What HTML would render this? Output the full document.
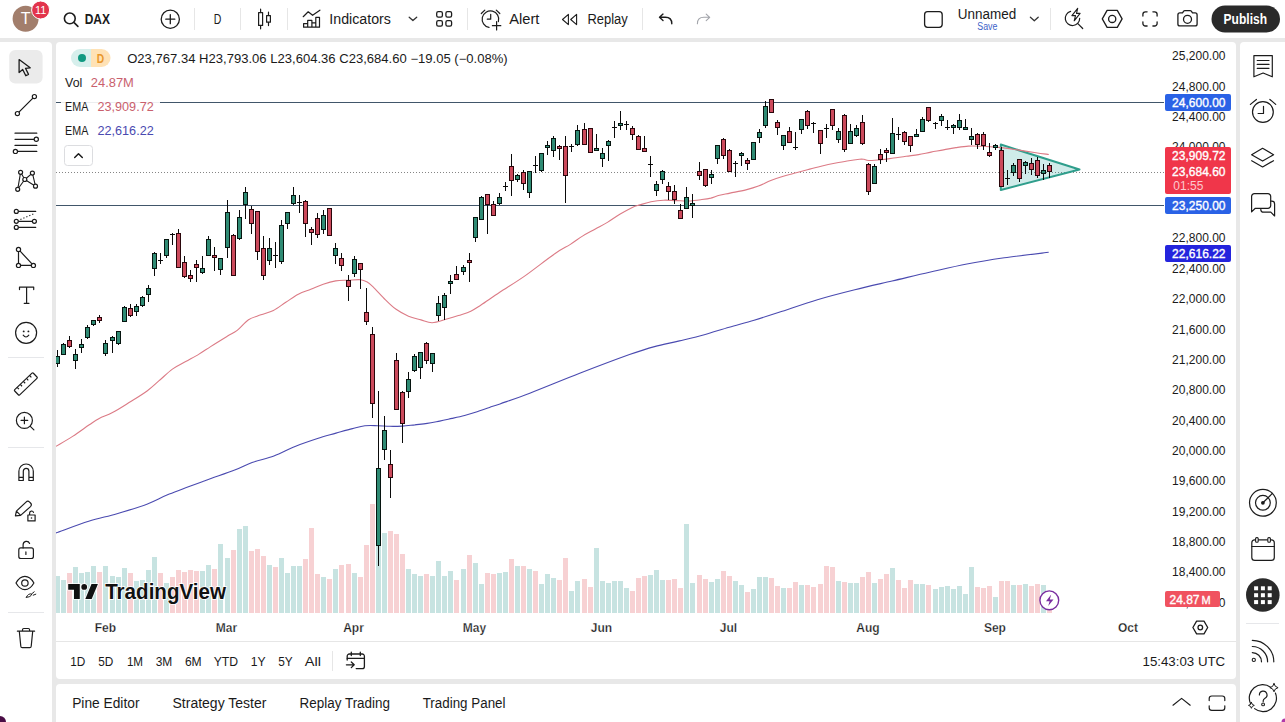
<!DOCTYPE html>
<html lang="en"><head><meta charset="utf-8"><title>DAX chart</title>
<style>html,body{margin:0;padding:0}
body{width:1285px;height:722px;overflow:hidden;background:#e8e8e8;font-family:"Liberation Sans", sans-serif;position:relative;color:#1a1a1a}
.panel{position:absolute;background:#fff;overflow:hidden}
svg{position:absolute;left:0;top:0;display:block;font-family:"Liberation Sans", sans-serif}
text{font-family:"Liberation Sans", sans-serif}</style></head><body>
<div class="panel" id="topbar" style="left:0px;top:0px;width:1285px;height:38px;border-radius:0"><svg width="1285" height="38" viewBox="0 0 1285 38">
<circle cx="25.6" cy="18.7" r="13" fill="#a27e6c"/>
<text x="25.6" y="24.4" font-size="16" font-weight="normal" fill="#fff" text-anchor="middle">T</text>
<circle cx="40.6" cy="10" r="9" fill="#e2344c" stroke="#fff" stroke-width="1"/>
<text x="40.6" y="14" font-size="11" font-weight="normal" fill="#fff" text-anchor="middle">11</text>
<path d="M75.2,18.4a5.4,5.4 0 1 1 -10.8,0a5.4,5.4 0 1 1 10.8,0M73.9,22.4l4,4" fill="none" stroke="#1c1c1c" stroke-width="1.6" stroke-linecap="round" stroke-linejoin="round"/>
<text x="84.7" y="24" font-size="14" font-weight="bold" fill="#1a1a1a" text-anchor="start" textLength="25.3" lengthAdjust="spacingAndGlyphs">DAX</text>
<path d="M179.4,19.2a9.1,9.1 0 1 1 -18.2,0a9.1,9.1 0 1 1 18.2,0M170.3,14.7v9M165.8,19.2h9" fill="none" stroke="#1c1c1c" stroke-width="1.3" stroke-linecap="round" stroke-linejoin="round"/>
<line x1="194.5" x2="194.5" y1="8" y2="30" stroke="#e6e6e6" stroke-width="1" shape-rendering="crispEdges"/>
<text x="213.7" y="23.9" font-size="14" font-weight="normal" fill="#1a1a1a" text-anchor="start" textLength="7.6" lengthAdjust="spacingAndGlyphs">D</text>
<line x1="240.5" x2="240.5" y1="8" y2="30" stroke="#e6e6e6" stroke-width="1" shape-rendering="crispEdges"/>
<path d="M258.6,12.6h4v12.8h-4zM260.6,9.2v3.4M260.6,25.4v3.4M266.6,15.6h3.8v6.6h-3.8zM268.5,12.2v3.4M268.5,22.2v3.4" fill="none" stroke="#1c1c1c" stroke-width="1.2" stroke-linecap="round" stroke-linejoin="round" stroke-linecap="butt"/>
<line x1="287.5" x2="287.5" y1="8" y2="30" stroke="#e6e6e6" stroke-width="1" shape-rendering="crispEdges"/>
<path d="M303.2,16.7l5,-4.9l4.4,3.5l7.3,-5.1" fill="none" stroke="#1c1c1c" stroke-width="1.2" stroke-linecap="round" stroke-linejoin="round"/>
<path d="M303.6,27.2v-3.6h4.1v3.6M307.7,23.6v-3.2h4.2v6.8M311.9,22.8h3.9M315.8,27.2v-9.9h3.7v9.9zM303.6,27.2h12.2" fill="none" stroke="#1c1c1c" stroke-width="1.2" stroke-linecap="round" stroke-linejoin="round" stroke-linecap="butt"/>
<text x="329.3" y="24" font-size="14" font-weight="normal" fill="#1a1a1a" text-anchor="start" textLength="61.6" lengthAdjust="spacingAndGlyphs">Indicators</text>
<path d="M409.2,17.2l3.7,3.3l3.8,-3.3" fill="none" stroke="#333" stroke-width="1.3" stroke-linecap="round" stroke-linejoin="round"/>
<g fill="none" stroke="#1c1c1c" stroke-width="1.3"><rect x="436.7" y="11.6" width="5.7" height="5.5" rx="1.6"/><rect x="445.9" y="11.6" width="5.7" height="5.5" rx="1.6"/><rect x="436.7" y="20.7" width="5.7" height="5.5" rx="1.6"/><rect x="445.9" y="20.7" width="5.7" height="5.5" rx="1.6"/></g>
<line x1="467.5" x2="467.5" y1="8" y2="30" stroke="#e6e6e6" stroke-width="1" shape-rendering="crispEdges"/>
<path d="M498.4,21.6a8.3,8.3 0 1 0 -9.4,5.8M481.3,13.5l3.5,-3.4M496.3,10.1l3.5,3.4M490.7,14.3v4.9h-3.4M496.6,21.5v8.4M492.4,25.7h8.4" fill="none" stroke="#1c1c1c" stroke-width="1.2" stroke-linecap="round" stroke-linejoin="round"/>
<text x="509.2" y="23.8" font-size="14" font-weight="normal" fill="#1a1a1a" text-anchor="start" textLength="30.2" lengthAdjust="spacingAndGlyphs">Alert</text>
<path d="M568.4,14.4v10.2l-5.9,-5.1zM576.6,14.4v10.2l-5.9,-5.1z" fill="none" stroke="#1c1c1c" stroke-width="1.1" stroke-linecap="round" stroke-linejoin="round"/>
<text x="587.5" y="23.8" font-size="14" font-weight="normal" fill="#1a1a1a" text-anchor="start" textLength="40.3" lengthAdjust="spacingAndGlyphs">Replay</text>
<line x1="642.5" x2="642.5" y1="8" y2="30" stroke="#e6e6e6" stroke-width="1" shape-rendering="crispEdges"/>
<path d="M671.8,23.8c0,-4 -2.4,-6.5 -6.4,-6.5h-5.6M663,14.1l-3.5,3.2l3.5,3.3" fill="none" stroke="#1c1c1c" stroke-width="1.4" stroke-linecap="round" stroke-linejoin="round"/>
<path d="M697.4,23.8c0,-4 2.4,-6.5 6.4,-6.5h5.6M706.2,14.1l3.5,3.2l-3.5,3.3" fill="none" stroke="#a2a4aa" stroke-width="1.1" stroke-linecap="round" stroke-linejoin="round"/>
<rect x="924.6" y="11.7" width="17.6" height="15.6" rx="3" fill="none" stroke="#1c1c1c" stroke-width="1.3"/>
<text x="957.8" y="19" font-size="14" font-weight="normal" fill="#1a1a1a" text-anchor="start" textLength="58.4" lengthAdjust="spacingAndGlyphs">Unnamed</text>
<text x="977.3" y="30" font-size="10" font-weight="normal" fill="#3d63c9" text-anchor="start" textLength="20.1" lengthAdjust="spacingAndGlyphs">Save</text>
<path d="M1030.4,17.3l3.9,3.4l3.9,-3.4" fill="none" stroke="#333" stroke-width="1.3" stroke-linecap="round" stroke-linejoin="round"/>
<line x1="1050.5" x2="1050.5" y1="8" y2="30" stroke="#e6e6e6" stroke-width="1" shape-rendering="crispEdges"/>
<path d="M1070.6,11.4a7.2,7.2 0 1 0 9.1,6.9M1077.6,23.4l5.1,5.1" fill="none" stroke="#1c1c1c" stroke-width="1.2" stroke-linecap="round" stroke-linejoin="round"/>
<path d="M1077.7,8.4l-5.8,7.2h3.6l-1.3,5.2l5.9,-7.4h-3.6z" fill="none" stroke="#1c1c1c" stroke-width="1.1" stroke-linecap="round" stroke-linejoin="round" fill="#fff"/>
<path d="M1102.3,18.9l4.8,-8.5h10.2l4.8,8.5l-4.8,8.5h-10.2z" fill="none" stroke="#1c1c1c" stroke-width="1.3" stroke-linecap="round" stroke-linejoin="round"/>
<circle cx="1112.2" cy="18.9" r="3.6" fill="none" stroke="#1c1c1c" stroke-width="1.3"/>
<path d="M1142.9,16v-1.7a2.5,2.5 0 0 1 2.5,-2.5h1.7M1152.9,11.8h1.7a2.5,2.5 0 0 1 2.5,2.5v1.7M1157.1,21.8v1.7a2.5,2.5 0 0 1 -2.5,2.5h-1.7M1147.1,26h-1.7a2.5,2.5 0 0 1 -2.5,-2.5v-1.7" fill="none" stroke="#1c1c1c" stroke-width="1.3" stroke-linecap="round" stroke-linejoin="round"/>
<path d="M1179.9,12.9h2.6l1.2,-1.7a1.5,1.5 0 0 1 1.2,-0.6h5.2a1.5,1.5 0 0 1 1.2,0.6l1.2,1.7h2.6a2,2 0 0 1 2,2v9a2,2 0 0 1 -2,2h-15.2a2,2 0 0 1 -2,-2v-9a2,2 0 0 1 2,-2z" fill="none" stroke="#1c1c1c" stroke-width="1.3" stroke-linecap="round" stroke-linejoin="round"/>
<circle cx="1187.5" cy="19.3" r="4" fill="none" stroke="#1c1c1c" stroke-width="1.3"/>
<rect x="1211.5" y="5.5" width="68.5" height="27" rx="13.5" fill="#2a2a2a"/>
<text x="1223.6" y="23.8" font-size="14" font-weight="bold" fill="#fff" text-anchor="start" textLength="43.4" lengthAdjust="spacingAndGlyphs">Publish</text>
</svg></div>
<div class="panel" id="lefttb" style="left:0px;top:42px;width:52px;height:680px;border-radius:0 4px 0 0"><svg width="52" height="680" viewBox="0 42 52 680">
<rect x="9.2" y="50" width="33.4" height="33.6" rx="6" fill="#ebebeb"/>
<path d="M19.1,59.6v13l3.6,-3.1l3.1,6.2l2.7,-1.3l-3,-6.1l4.7,-0.5z" fill="none" stroke="#1c1c1c" stroke-width="1.3" stroke-linecap="round" stroke-linejoin="round"/>
<path d="M18.9,112.1l14,-14" fill="none" stroke="#1c1c1c" stroke-width="1.3" stroke-linecap="round" stroke-linejoin="round"/>
<circle cx="17.4" cy="113.6" r="2.1" fill="#fff" stroke="#1c1c1c" stroke-width="1.2"/><circle cx="34.4" cy="96.6" r="2.1" fill="#fff" stroke="#1c1c1c" stroke-width="1.2"/>
<path d="M15,133.2h21.8M15,139.3h19.2M15,145.4h21.8M17.5,151.4h19.3" fill="none" stroke="#1c1c1c" stroke-width="1.2" stroke-linecap="round" stroke-linejoin="round" stroke-linecap="butt"/>
<circle cx="36.3" cy="139.3" r="2.1" fill="#fff" stroke="#1c1c1c" stroke-width="1.2"/><circle cx="15.4" cy="151.4" r="2.1" fill="#fff" stroke="#1c1c1c" stroke-width="1.2"/>
<path d="M17.7,189.3L20.6,172.3L24.8,179.5L32.4,173.1L35.5,186.2L24.8,179.5L17.7,189.3" fill="none" stroke="#1c1c1c" stroke-width="1.1" stroke-linecap="round" stroke-linejoin="round"/>
<circle cx="20.6" cy="172.3" r="2" fill="#fff" stroke="#1c1c1c" stroke-width="1.2"/><circle cx="32.4" cy="173.1" r="2" fill="#fff" stroke="#1c1c1c" stroke-width="1.2"/><circle cx="24.8" cy="179.5" r="2" fill="#fff" stroke="#1c1c1c" stroke-width="1.2"/><circle cx="35.5" cy="186.2" r="2" fill="#fff" stroke="#1c1c1c" stroke-width="1.2"/><circle cx="17.7" cy="189.3" r="2" fill="#fff" stroke="#1c1c1c" stroke-width="1.2"/>
<path d="M18.3,211.4h17.4M18.3,221.3h14M18.3,227.4h17.4" fill="none" stroke="#1c1c1c" stroke-width="1.2" stroke-linecap="round" stroke-linejoin="round" stroke-linecap="butt"/>
<path d="M20.4,219.5L34.9,213.4" fill="none" stroke="#1c1c1c" stroke-width="1.1" stroke-dasharray="1.2 2"/>
<circle cx="16.3" cy="211.4" r="2" fill="#fff" stroke="#1c1c1c" stroke-width="1.2"/><circle cx="16.3" cy="221.3" r="2" fill="#fff" stroke="#1c1c1c" stroke-width="1.2"/><circle cx="34.4" cy="221.3" r="2" fill="#fff" stroke="#1c1c1c" stroke-width="1.2"/><circle cx="16.3" cy="227.4" r="2" fill="#fff" stroke="#1c1c1c" stroke-width="1.2"/>
<path d="M18.5,249.4V265.4H33.4Z" fill="none" stroke="#1c1c1c" stroke-width="1.2" stroke-linecap="round" stroke-linejoin="round"/>
<circle cx="18.5" cy="249.4" r="2.1" fill="#fff" stroke="#1c1c1c" stroke-width="1.2"/><circle cx="18.5" cy="265.4" r="2.1" fill="#fff" stroke="#1c1c1c" stroke-width="1.2"/><circle cx="33.4" cy="265.4" r="2.1" fill="#fff" stroke="#1c1c1c" stroke-width="1.2"/>
<path d="M19.5,289.6v-2.5h14.2v2.5M26.6,287.1v16.2M24.2,303.3h4.8" fill="none" stroke="#1c1c1c" stroke-width="1.2" stroke-linecap="round" stroke-linejoin="round" stroke-linecap="butt"/>
<circle cx="26.1" cy="332.8" r="10.5" fill="none" stroke="#1c1c1c" stroke-width="1.2"/>
<circle cx="23.7" cy="331.4" r="0.95" fill="#1c1c1c"/><circle cx="28.4" cy="331.4" r="0.95" fill="#1c1c1c"/>
<path d="M23.2,335.2q2.8,3.6 5.6,0" fill="none" stroke="#1c1c1c" stroke-width="1.2" stroke-linecap="round" stroke-linejoin="round"/>
<line x1="8" x2="44" y1="357.5" y2="357.5" stroke="#e6e7ea" stroke-width="1" shape-rendering="crispEdges"/>
<g transform="translate(25.85,384) rotate(-43.6)" fill="none" stroke="#1c1c1c" stroke-width="1.2" stroke-linejoin="round"><rect x="-12.9" y="-3.6" width="25.8" height="7.2" rx="1"/><path d="M-8.6,-3.6v2.6M-4.3,-3.6v2.6M0,-3.6v2.6M4.3,-3.6v2.6M8.6,-3.6v2.6"/></g>
<circle cx="24.4" cy="420.4" r="8" fill="none" stroke="#1c1c1c" stroke-width="1.2"/>
<path d="M24.4,417.1v6.6M21.1,420.4h6.6M30.3,426.4l3.6,3.5" fill="none" stroke="#1c1c1c" stroke-width="1.2" stroke-linecap="round" stroke-linejoin="round"/>
<line x1="8" x2="44" y1="447.5" y2="447.5" stroke="#e6e7ea" stroke-width="1" shape-rendering="crispEdges"/>
<path d="M18.9,480.5v-9.3a7.2,7.2 0 0 1 14.4,0v9.3h-4.4v-9.3a2.8,2.8 0 0 0 -5.6,0v9.3zM18.9,477.3h4.4M28.9,477.3h4.4" fill="none" stroke="#1c1c1c" stroke-width="1.2" stroke-linecap="round" stroke-linejoin="round"/>
<path d="M15.4,515.8l1,-4.7l9.6,-9a2.6,2.6 0 0 1 3.6,0l0.9,0.9a2.6,2.6 0 0 1 0,3.6l-9.9,8.8zM16.6,511.3l3.8,3.9" fill="none" stroke="#1c1c1c" stroke-width="1.2" stroke-linecap="round" stroke-linejoin="round"/>
<path d="M27.9,515h7.2v5.9h-7.2zM29.6,515v-2a2,2 0 0 1 3.9,-0.6" fill="none" stroke="#1c1c1c" stroke-width="1.2" stroke-linecap="round" stroke-linejoin="round"/>
<circle cx="31.5" cy="518" r="0.8" fill="#1c1c1c"/>
<rect x="18.8" y="547.9" width="14.6" height="10.6" rx="2" fill="none" stroke="#1c1c1c" stroke-width="1.2"/>
<path d="M23.1,547.9v-3.2a3.4,3.4 0 0 1 6.5,-1.3M25.9,551.9v2.6" fill="none" stroke="#1c1c1c" stroke-width="1.2" stroke-linecap="round" stroke-linejoin="round"/>
<path d="M16,583c2.4,-4.2 5.6,-6.6 8.9,-6.6c3.3,0 6.6,2.4 9,6.6c-2.4,4.2 -5.7,6.6 -9,6.6c-3.3,0 -6.5,-2.4 -8.9,-6.6z" fill="none" stroke="#1c1c1c" stroke-width="1.2" stroke-linecap="round" stroke-linejoin="round"/>
<circle cx="24.9" cy="583" r="3.2" fill="none" stroke="#1c1c1c" stroke-width="1.2"/>
<path d="M26.4,597.2c1,-2.6 3.2,-3.8 5.4,-3.2c-0.6,2.2 -2.8,3.4 -5.4,3.2zM32,593.6l2.2,-1.8M33.2,595.2l2.6,-1" fill="none" stroke="#1c1c1c" stroke-width="1" stroke-linecap="round" stroke-linejoin="round"/>
<line x1="8" x2="44" y1="612.5" y2="612.5" stroke="#e6e7ea" stroke-width="1" shape-rendering="crispEdges"/>
<path d="M17.4,631.2h17.2M22.5,631.2v-1.4a1.3,1.3 0 0 1 1.3,-1.3h4.5a1.3,1.3 0 0 1 1.3,1.3v1.4M19.3,631.2l1.5,15a1.5,1.5 0 0 0 1.5,1.4h7.4a1.5,1.5 0 0 0 1.5,-1.4l1.5,-15" fill="none" stroke="#1c1c1c" stroke-width="1.2" stroke-linecap="round" stroke-linejoin="round"/>
<path d="M0,716a6,6 0 0 1 6,6h-6z" fill="#4a0d45"/>
</svg></div>
<div class="panel" id="chart" style="left:56px;top:42px;width:1180px;height:637px;border-radius:4px"><svg width="1180" height="637" viewBox="56 42 1180 637">
<g shape-rendering="crispEdges">
<rect x="55" y="576" width="5" height="37" fill="#c7e3e1"/>
<rect x="61" y="580" width="5" height="33" fill="#c7e3e1"/>
<rect x="67" y="573" width="5" height="40" fill="#f7d1d3"/>
<rect x="73" y="567" width="5" height="46" fill="#c7e3e1"/>
<rect x="79" y="573" width="5" height="40" fill="#c7e3e1"/>
<rect x="85" y="572" width="5" height="41" fill="#c7e3e1"/>
<rect x="91" y="566" width="5" height="47" fill="#c7e3e1"/>
<rect x="97" y="572" width="5" height="41" fill="#f7d1d3"/>
<rect x="103" y="566" width="5" height="47" fill="#c7e3e1"/>
<rect x="110" y="576" width="5" height="37" fill="#c7e3e1"/>
<rect x="116" y="577" width="5" height="36" fill="#c7e3e1"/>
<rect x="122" y="568" width="5" height="45" fill="#c7e3e1"/>
<rect x="128" y="573" width="5" height="40" fill="#f7d1d3"/>
<rect x="134" y="581" width="5" height="32" fill="#c7e3e1"/>
<rect x="140" y="580" width="5" height="33" fill="#c7e3e1"/>
<rect x="146" y="570" width="5" height="43" fill="#c7e3e1"/>
<rect x="152" y="557" width="5" height="56" fill="#c7e3e1"/>
<rect x="158" y="573" width="5" height="40" fill="#f7d1d3"/>
<rect x="164" y="583" width="5" height="30" fill="#c7e3e1"/>
<rect x="170" y="577" width="5" height="36" fill="#f7d1d3"/>
<rect x="176" y="570" width="5" height="43" fill="#f7d1d3"/>
<rect x="182" y="572" width="5" height="41" fill="#f7d1d3"/>
<rect x="188" y="570" width="5" height="43" fill="#f7d1d3"/>
<rect x="194" y="571" width="5" height="42" fill="#f7d1d3"/>
<rect x="200" y="571" width="5" height="42" fill="#c7e3e1"/>
<rect x="206" y="565" width="5" height="48" fill="#c7e3e1"/>
<rect x="212" y="569" width="5" height="44" fill="#f7d1d3"/>
<rect x="218" y="544" width="5" height="69" fill="#c7e3e1"/>
<rect x="225" y="558" width="5" height="55" fill="#c7e3e1"/>
<rect x="231" y="550" width="5" height="63" fill="#f7d1d3"/>
<rect x="237" y="529" width="5" height="84" fill="#c7e3e1"/>
<rect x="243" y="526" width="5" height="87" fill="#c7e3e1"/>
<rect x="249" y="551" width="5" height="62" fill="#f7d1d3"/>
<rect x="255" y="549" width="5" height="64" fill="#f7d1d3"/>
<rect x="261" y="556" width="5" height="57" fill="#f7d1d3"/>
<rect x="267" y="565" width="5" height="48" fill="#c7e3e1"/>
<rect x="273" y="567" width="5" height="46" fill="#f7d1d3"/>
<rect x="279" y="558" width="5" height="55" fill="#c7e3e1"/>
<rect x="285" y="573" width="5" height="40" fill="#c7e3e1"/>
<rect x="291" y="566" width="5" height="47" fill="#c7e3e1"/>
<rect x="297" y="566" width="5" height="47" fill="#c7e3e1"/>
<rect x="303" y="559" width="5" height="54" fill="#f7d1d3"/>
<rect x="309" y="528" width="5" height="85" fill="#f7d1d3"/>
<rect x="315" y="574" width="5" height="39" fill="#f7d1d3"/>
<rect x="321" y="577" width="5" height="36" fill="#c7e3e1"/>
<rect x="327" y="579" width="5" height="34" fill="#f7d1d3"/>
<rect x="333" y="569" width="5" height="44" fill="#c7e3e1"/>
<rect x="339" y="565" width="5" height="48" fill="#f7d1d3"/>
<rect x="346" y="564" width="5" height="49" fill="#f7d1d3"/>
<rect x="352" y="573" width="5" height="40" fill="#c7e3e1"/>
<rect x="358" y="577" width="5" height="36" fill="#f7d1d3"/>
<rect x="364" y="545" width="5" height="68" fill="#f7d1d3"/>
<rect x="370" y="504" width="5" height="109" fill="#f7d1d3"/>
<rect x="376" y="500" width="5" height="113" fill="#c7e3e1"/>
<rect x="382" y="533" width="5" height="80" fill="#c7e3e1"/>
<rect x="388" y="531" width="5" height="82" fill="#f7d1d3"/>
<rect x="394" y="534" width="5" height="79" fill="#f7d1d3"/>
<rect x="400" y="554" width="5" height="59" fill="#f7d1d3"/>
<rect x="406" y="569" width="5" height="44" fill="#c7e3e1"/>
<rect x="412" y="574" width="5" height="39" fill="#c7e3e1"/>
<rect x="418" y="576" width="5" height="37" fill="#c7e3e1"/>
<rect x="424" y="574" width="5" height="39" fill="#f7d1d3"/>
<rect x="430" y="576" width="5" height="37" fill="#c7e3e1"/>
<rect x="436" y="561" width="5" height="52" fill="#c7e3e1"/>
<rect x="442" y="576" width="5" height="37" fill="#c7e3e1"/>
<rect x="448" y="571" width="5" height="42" fill="#c7e3e1"/>
<rect x="454" y="580" width="5" height="33" fill="#f7d1d3"/>
<rect x="461" y="569" width="5" height="44" fill="#c7e3e1"/>
<rect x="467" y="555" width="5" height="58" fill="#f7d1d3"/>
<rect x="473" y="563" width="5" height="50" fill="#c7e3e1"/>
<rect x="479" y="584" width="5" height="29" fill="#c7e3e1"/>
<rect x="485" y="573" width="5" height="40" fill="#f7d1d3"/>
<rect x="491" y="574" width="5" height="39" fill="#f7d1d3"/>
<rect x="497" y="573" width="5" height="40" fill="#c7e3e1"/>
<rect x="503" y="572" width="5" height="41" fill="#c7e3e1"/>
<rect x="509" y="559" width="5" height="54" fill="#f7d1d3"/>
<rect x="515" y="566" width="5" height="47" fill="#c7e3e1"/>
<rect x="521" y="566" width="5" height="47" fill="#f7d1d3"/>
<rect x="527" y="569" width="5" height="44" fill="#c7e3e1"/>
<rect x="533" y="571" width="5" height="42" fill="#f7d1d3"/>
<rect x="539" y="584" width="5" height="29" fill="#c7e3e1"/>
<rect x="545" y="574" width="5" height="39" fill="#c7e3e1"/>
<rect x="551" y="578" width="5" height="35" fill="#c7e3e1"/>
<rect x="557" y="580" width="5" height="33" fill="#f7d1d3"/>
<rect x="563" y="558" width="5" height="55" fill="#f7d1d3"/>
<rect x="569" y="591" width="5" height="22" fill="#c7e3e1"/>
<rect x="575" y="581" width="5" height="32" fill="#c7e3e1"/>
<rect x="582" y="579" width="5" height="34" fill="#f7d1d3"/>
<rect x="588" y="587" width="5" height="26" fill="#f7d1d3"/>
<rect x="594" y="548" width="5" height="65" fill="#c7e3e1"/>
<rect x="600" y="581" width="5" height="32" fill="#c7e3e1"/>
<rect x="606" y="583" width="5" height="30" fill="#c7e3e1"/>
<rect x="612" y="581" width="5" height="32" fill="#c7e3e1"/>
<rect x="618" y="581" width="5" height="32" fill="#c7e3e1"/>
<rect x="624" y="588" width="5" height="25" fill="#c7e3e1"/>
<rect x="630" y="591" width="5" height="22" fill="#f7d1d3"/>
<rect x="636" y="578" width="5" height="35" fill="#f7d1d3"/>
<rect x="642" y="576" width="5" height="37" fill="#f7d1d3"/>
<rect x="648" y="575" width="5" height="38" fill="#c7e3e1"/>
<rect x="654" y="570" width="5" height="43" fill="#c7e3e1"/>
<rect x="660" y="580" width="5" height="33" fill="#c7e3e1"/>
<rect x="666" y="580" width="5" height="33" fill="#f7d1d3"/>
<rect x="672" y="579" width="5" height="34" fill="#f7d1d3"/>
<rect x="678" y="588" width="5" height="25" fill="#f7d1d3"/>
<rect x="684" y="524" width="5" height="89" fill="#c7e3e1"/>
<rect x="690" y="583" width="5" height="30" fill="#c7e3e1"/>
<rect x="697" y="575" width="5" height="38" fill="#f7d1d3"/>
<rect x="703" y="579" width="5" height="34" fill="#f7d1d3"/>
<rect x="709" y="582" width="5" height="31" fill="#c7e3e1"/>
<rect x="715" y="579" width="5" height="34" fill="#c7e3e1"/>
<rect x="721" y="571" width="5" height="42" fill="#f7d1d3"/>
<rect x="727" y="576" width="5" height="37" fill="#f7d1d3"/>
<rect x="733" y="581" width="5" height="32" fill="#c7e3e1"/>
<rect x="739" y="585" width="5" height="28" fill="#c7e3e1"/>
<rect x="745" y="592" width="5" height="21" fill="#f7d1d3"/>
<rect x="751" y="589" width="5" height="24" fill="#c7e3e1"/>
<rect x="757" y="577" width="5" height="36" fill="#c7e3e1"/>
<rect x="763" y="577" width="5" height="36" fill="#c7e3e1"/>
<rect x="769" y="578" width="5" height="35" fill="#f7d1d3"/>
<rect x="775" y="586" width="5" height="27" fill="#f7d1d3"/>
<rect x="781" y="588" width="5" height="25" fill="#c7e3e1"/>
<rect x="787" y="588" width="5" height="25" fill="#f7d1d3"/>
<rect x="793" y="582" width="5" height="31" fill="#f7d1d3"/>
<rect x="799" y="585" width="5" height="28" fill="#c7e3e1"/>
<rect x="805" y="585" width="5" height="28" fill="#f7d1d3"/>
<rect x="811" y="587" width="5" height="26" fill="#f7d1d3"/>
<rect x="818" y="584" width="5" height="29" fill="#f7d1d3"/>
<rect x="824" y="566" width="5" height="47" fill="#f7d1d3"/>
<rect x="830" y="567" width="5" height="46" fill="#f7d1d3"/>
<rect x="836" y="581" width="5" height="32" fill="#c7e3e1"/>
<rect x="842" y="582" width="5" height="31" fill="#f7d1d3"/>
<rect x="848" y="583" width="5" height="30" fill="#c7e3e1"/>
<rect x="854" y="583" width="5" height="30" fill="#c7e3e1"/>
<rect x="860" y="577" width="5" height="36" fill="#f7d1d3"/>
<rect x="866" y="572" width="5" height="41" fill="#f7d1d3"/>
<rect x="872" y="583" width="5" height="30" fill="#c7e3e1"/>
<rect x="878" y="579" width="5" height="34" fill="#f7d1d3"/>
<rect x="884" y="574" width="5" height="39" fill="#f7d1d3"/>
<rect x="890" y="568" width="5" height="45" fill="#c7e3e1"/>
<rect x="896" y="580" width="5" height="33" fill="#f7d1d3"/>
<rect x="902" y="588" width="5" height="25" fill="#f7d1d3"/>
<rect x="908" y="580" width="5" height="33" fill="#f7d1d3"/>
<rect x="914" y="584" width="5" height="29" fill="#c7e3e1"/>
<rect x="920" y="584" width="5" height="29" fill="#c7e3e1"/>
<rect x="926" y="585" width="5" height="28" fill="#f7d1d3"/>
<rect x="933" y="589" width="5" height="24" fill="#c7e3e1"/>
<rect x="939" y="587" width="5" height="26" fill="#c7e3e1"/>
<rect x="945" y="586" width="5" height="27" fill="#c7e3e1"/>
<rect x="951" y="589" width="5" height="24" fill="#c7e3e1"/>
<rect x="957" y="586" width="5" height="27" fill="#c7e3e1"/>
<rect x="963" y="594" width="5" height="19" fill="#c7e3e1"/>
<rect x="969" y="567" width="5" height="46" fill="#c7e3e1"/>
<rect x="975" y="587" width="5" height="26" fill="#f7d1d3"/>
<rect x="981" y="588" width="5" height="25" fill="#f7d1d3"/>
<rect x="987" y="586" width="5" height="27" fill="#f7d1d3"/>
<rect x="993" y="597" width="5" height="16" fill="#c7e3e1"/>
<rect x="999" y="581" width="5" height="32" fill="#f7d1d3"/>
<rect x="1005" y="581" width="5" height="32" fill="#f7d1d3"/>
<rect x="1011" y="585" width="5" height="28" fill="#c7e3e1"/>
<rect x="1017" y="585" width="5" height="28" fill="#f7d1d3"/>
<rect x="1023" y="584" width="5" height="29" fill="#c7e3e1"/>
<rect x="1029" y="586" width="5" height="27" fill="#f7d1d3"/>
<rect x="1035" y="584" width="5" height="29" fill="#f7d1d3"/>
<rect x="1041" y="585" width="5" height="28" fill="#c7e3e1"/>
<rect x="1047" y="599" width="5" height="14" fill="#f7d1d3"/>
</g>
<g shape-rendering="crispEdges" stroke="#41566a" stroke-width="1"><line x1="56" x2="1164" y1="102.5" y2="102.5"/><line x1="56" x2="1164" y1="205.5" y2="205.5"/></g>
<line x1="56" x2="1165" y1="172.5" y2="172.5" stroke="#858585" stroke-width="1" stroke-dasharray="1 2" shape-rendering="crispEdges"/>
<polygon points="1000.8,144.5 1079.5,169.5 1000.8,190" fill="rgba(38,166,154,0.22)" stroke="#2f9e8c" stroke-width="2" stroke-linejoin="round"/>
<path d="M56.0,532.9 C61.5,531.0 78.5,524.5 88.7,521.3 C98.9,518.1 107.2,516.6 117.0,513.7 C126.8,510.8 138.8,507.2 147.5,503.9 C156.2,500.6 159.9,497.9 169.3,494.1 C178.8,490.3 193.3,485.0 204.2,481.0 C215.1,477.0 226.7,473.2 234.7,470.1 C242.7,467.0 245.6,464.9 252.1,462.5 C258.6,460.1 266.6,458.7 273.9,456.0 C281.2,453.3 288.4,449.1 295.7,446.2 C303.0,443.3 310.8,440.7 317.5,438.5 C324.2,436.3 330.2,434.8 336.0,433.1 C341.8,431.5 347.7,429.8 352.5,428.6 C357.3,427.4 360.8,426.3 364.9,425.8 C369.0,425.3 373.2,425.6 377.4,425.7 C381.5,425.8 385.6,426.2 389.8,426.3 C394.0,426.4 398.1,426.3 402.3,426.1 C406.5,425.9 410.7,425.3 414.8,424.9 C418.9,424.4 423.1,424.0 427.2,423.4 C431.3,422.8 435.5,421.9 439.7,421.1 C443.9,420.3 448.0,419.3 452.1,418.4 C456.2,417.5 460.4,416.6 464.6,415.5 C468.8,414.4 473.0,413.2 477.1,411.8 C481.2,410.4 485.7,408.7 489.5,407.4 C493.3,406.1 493.3,406.3 500.0,403.9 C506.7,401.5 516.5,398.3 529.8,393.2 C543.1,388.1 563.1,379.7 579.7,373.3 C596.3,366.9 617.0,359.1 629.5,354.6 C642.0,350.2 646.2,348.9 654.5,346.6 C662.8,344.3 671.1,342.9 679.4,340.9 C687.7,338.9 696.0,337.0 704.3,334.7 C712.6,332.4 720.9,329.6 729.2,327.2 C737.5,324.8 745.8,322.7 754.1,320.2 C762.4,317.7 768.6,315.7 779.1,312.3 C789.6,308.9 804.8,303.5 817.4,299.7 C830.0,295.9 842.3,292.8 854.8,289.7 C867.2,286.6 879.6,283.9 892.1,281.0 C904.6,278.1 917.0,275.0 929.5,272.2 C942.0,269.4 954.4,266.4 966.9,264.0 C979.4,261.6 990.7,259.8 1004.3,257.8 C1017.9,255.9 1041.3,253.2 1048.7,252.3" fill="none" stroke="#4a4ab0" stroke-width="1.1"/>
<path d="M56.0,446.4 C58.8,444.7 67.0,440.0 72.6,436.4 C78.1,432.8 84.9,427.8 89.3,424.8 C93.7,421.8 95.3,420.4 99.2,418.4 C103.1,416.4 107.2,415.4 112.5,412.6 C117.8,409.8 125.0,405.1 130.8,401.5 C136.6,397.9 142.7,394.2 147.4,390.7 C152.1,387.2 154.9,384.3 159.1,380.7 C163.3,377.1 168.0,372.3 172.4,369.1 C176.8,365.9 181.3,364.1 185.7,361.6 C190.1,359.1 194.8,356.6 199.0,354.1 C203.2,351.6 205.9,349.6 210.6,346.6 C215.3,343.6 222.8,339.0 227.2,336.3 C231.6,333.6 233.6,333.1 237.2,330.4 C240.8,327.6 244.6,322.4 248.5,319.8 C252.4,317.2 256.8,316.4 260.9,314.8 C265.0,313.2 269.2,312.5 273.4,310.4 C277.5,308.3 281.6,305.0 285.8,302.3 C290.0,299.6 294.1,296.4 298.3,294.2 C302.5,292.0 306.7,290.9 310.8,289.3 C314.9,287.7 319.1,285.7 323.2,284.3 C327.3,282.9 331.5,281.6 335.7,280.9 C339.9,280.2 344.0,280.4 348.1,280.2 C352.2,280.0 357.5,279.4 360.6,279.7 C363.7,280.0 364.7,280.6 366.8,281.8 C368.9,283.0 370.0,283.8 373.1,286.8 C376.2,289.8 381.7,296.1 385.5,299.8 C389.3,303.6 392.3,306.6 396.1,309.3 C399.9,312.0 404.4,314.4 408.5,316.2 C412.6,318.0 417.1,318.8 421.0,319.9 C424.9,321.0 428.1,322.8 432.2,322.7 C436.3,322.6 441.5,320.5 445.9,319.3 C450.3,318.1 454.2,317.0 458.4,315.6 C462.5,314.2 467.0,313.0 470.8,311.2 C474.6,309.4 476.2,308.1 481.0,305.0 C485.8,301.9 492.4,297.1 499.7,292.3 C507.0,287.5 515.4,282.5 524.6,276.1 C533.8,269.7 547.2,258.9 554.8,253.7 C562.4,248.4 565.4,247.5 570.0,244.6 C574.6,241.7 578.4,238.7 582.5,236.1 C586.6,233.5 590.8,231.5 594.9,229.2 C599.0,226.9 603.2,224.9 607.4,222.4 C611.5,219.9 615.6,216.8 619.8,214.3 C623.9,211.8 629.0,209.0 632.3,207.4 C635.6,205.8 636.7,205.8 639.8,204.9 C642.9,204.0 647.0,202.6 651.0,201.8 C655.0,201.0 659.4,200.4 663.5,200.2 C667.6,200.0 671.8,200.5 675.9,200.6 C680.0,200.7 684.2,201.2 688.4,201.0 C692.5,200.8 697.1,200.2 700.8,199.7 C704.5,199.2 707.7,198.8 710.8,198.1 C713.9,197.3 716.3,196.0 719.5,195.2 C722.7,194.4 725.6,194.0 730.0,193.1 C734.4,192.2 741.2,191.1 745.9,189.9 C750.6,188.7 754.2,187.7 758.4,186.1 C762.5,184.5 766.6,182.2 770.8,180.5 C774.9,178.8 778.9,177.5 783.3,176.2 C787.7,174.9 792.8,173.7 797.2,172.5 C801.6,171.3 805.6,170.2 809.7,169.1 C813.9,168.0 818.0,167.0 822.1,166.0 C826.2,165.0 830.4,164.1 834.6,163.3 C838.8,162.5 843.0,161.7 847.1,161.0 C851.2,160.3 856.7,159.5 859.5,159.2 C862.3,158.9 862.5,159.1 864.0,159.3 C865.5,159.5 865.8,160.4 868.7,160.5 C871.6,160.6 877.1,160.2 881.2,159.8 C885.4,159.4 889.5,158.6 893.6,158.0 C897.8,157.4 902.0,156.9 906.1,156.3 C910.2,155.7 914.4,155.3 918.5,154.6 C922.6,153.9 926.8,152.9 931.0,152.1 C935.2,151.3 939.4,150.7 943.5,149.9 C947.6,149.2 951.8,148.2 955.9,147.6 C960.0,147.0 964.2,146.3 968.4,146.1 C972.5,145.9 975.8,146.0 980.8,146.2 C985.8,146.4 992.6,146.8 998.7,147.4 C1004.8,148.0 1011.2,149.0 1017.4,149.9 C1023.6,150.8 1030.8,151.9 1036.0,152.7 C1041.2,153.5 1046.7,154.2 1048.8,154.5" fill="none" stroke="#dc7b86" stroke-width="1.1"/>
<g shape-rendering="crispEdges">
<rect x="57" y="350" width="1" height="17" fill="#0a0a0a"/>
<rect x="55" y="356" width="5" height="8" fill="#06140f"/>
<rect x="56" y="357" width="3" height="6" fill="#2f8b74"/>
<rect x="63" y="343" width="1" height="12" fill="#0a0a0a"/>
<rect x="61" y="344" width="5" height="11" fill="#06140f"/>
<rect x="62" y="345" width="3" height="9" fill="#2f8b74"/>
<rect x="69" y="336" width="1" height="12" fill="#0a0a0a"/>
<rect x="67" y="340" width="5" height="7" fill="#2a060b"/>
<rect x="68" y="341" width="3" height="5" fill="#cc4a5c"/>
<rect x="75" y="349" width="1" height="20" fill="#0a0a0a"/>
<rect x="73" y="354" width="5" height="7" fill="#06140f"/>
<rect x="74" y="355" width="3" height="5" fill="#2f8b74"/>
<rect x="81" y="339" width="1" height="14" fill="#0a0a0a"/>
<rect x="79" y="344" width="5" height="4" fill="#06140f"/>
<rect x="80" y="345" width="3" height="2" fill="#2f8b74"/>
<rect x="87" y="325" width="1" height="14" fill="#0a0a0a"/>
<rect x="85" y="327" width="5" height="11" fill="#06140f"/>
<rect x="86" y="328" width="3" height="9" fill="#2f8b74"/>
<rect x="93" y="320" width="1" height="6" fill="#0a0a0a"/>
<rect x="91" y="320" width="5" height="5" fill="#06140f"/>
<rect x="92" y="321" width="3" height="3" fill="#2f8b74"/>
<rect x="99" y="315" width="1" height="8" fill="#0a0a0a"/>
<rect x="97" y="317" width="5" height="4" fill="#2a060b"/>
<rect x="98" y="318" width="3" height="2" fill="#cc4a5c"/>
<rect x="105" y="340" width="1" height="16" fill="#0a0a0a"/>
<rect x="103" y="343" width="5" height="11" fill="#06140f"/>
<rect x="104" y="344" width="3" height="9" fill="#2f8b74"/>
<rect x="112" y="336" width="1" height="17" fill="#0a0a0a"/>
<rect x="110" y="337" width="5" height="4" fill="#06140f"/>
<rect x="111" y="338" width="3" height="2" fill="#2f8b74"/>
<rect x="118" y="331" width="1" height="14" fill="#0a0a0a"/>
<rect x="116" y="331" width="5" height="13" fill="#06140f"/>
<rect x="117" y="332" width="3" height="11" fill="#2f8b74"/>
<rect x="124" y="306" width="1" height="16" fill="#0a0a0a"/>
<rect x="122" y="307" width="5" height="15" fill="#06140f"/>
<rect x="123" y="308" width="3" height="13" fill="#2f8b74"/>
<rect x="130" y="304" width="1" height="13" fill="#0a0a0a"/>
<rect x="128" y="308" width="5" height="8" fill="#2a060b"/>
<rect x="129" y="309" width="3" height="6" fill="#cc4a5c"/>
<rect x="136" y="304" width="1" height="12" fill="#0a0a0a"/>
<rect x="134" y="306" width="5" height="6" fill="#06140f"/>
<rect x="135" y="307" width="3" height="4" fill="#2f8b74"/>
<rect x="142" y="296" width="1" height="11" fill="#0a0a0a"/>
<rect x="140" y="297" width="5" height="9" fill="#06140f"/>
<rect x="141" y="298" width="3" height="7" fill="#2f8b74"/>
<rect x="148" y="285" width="1" height="17" fill="#0a0a0a"/>
<rect x="146" y="288" width="5" height="7" fill="#06140f"/>
<rect x="147" y="289" width="3" height="5" fill="#2f8b74"/>
<rect x="154" y="252" width="1" height="24" fill="#0a0a0a"/>
<rect x="152" y="253" width="5" height="16" fill="#06140f"/>
<rect x="153" y="254" width="3" height="14" fill="#2f8b74"/>
<rect x="160" y="253" width="1" height="11" fill="#0a0a0a"/>
<rect x="158" y="260" width="5" height="1" fill="#0a0a0a"/>
<rect x="166" y="239" width="1" height="19" fill="#0a0a0a"/>
<rect x="164" y="239" width="5" height="17" fill="#06140f"/>
<rect x="165" y="240" width="3" height="15" fill="#2f8b74"/>
<rect x="172" y="233" width="1" height="12" fill="#0a0a0a"/>
<rect x="170" y="234" width="5" height="1" fill="#0a0a0a"/>
<rect x="178" y="229" width="1" height="39" fill="#0a0a0a"/>
<rect x="176" y="233" width="5" height="35" fill="#2a060b"/>
<rect x="177" y="234" width="3" height="33" fill="#cc4a5c"/>
<rect x="184" y="256" width="1" height="22" fill="#0a0a0a"/>
<rect x="182" y="262" width="5" height="15" fill="#2a060b"/>
<rect x="183" y="263" width="3" height="13" fill="#cc4a5c"/>
<rect x="190" y="270" width="1" height="12" fill="#0a0a0a"/>
<rect x="188" y="275" width="5" height="4" fill="#2a060b"/>
<rect x="189" y="276" width="3" height="2" fill="#cc4a5c"/>
<rect x="196" y="260" width="1" height="22" fill="#0a0a0a"/>
<rect x="194" y="264" width="5" height="4" fill="#2a060b"/>
<rect x="195" y="265" width="3" height="2" fill="#cc4a5c"/>
<rect x="202" y="256" width="1" height="18" fill="#0a0a0a"/>
<rect x="200" y="268" width="5" height="5" fill="#06140f"/>
<rect x="201" y="269" width="3" height="3" fill="#2f8b74"/>
<rect x="208" y="236" width="1" height="20" fill="#0a0a0a"/>
<rect x="206" y="239" width="5" height="17" fill="#06140f"/>
<rect x="207" y="240" width="3" height="15" fill="#2f8b74"/>
<rect x="214" y="247" width="1" height="24" fill="#0a0a0a"/>
<rect x="212" y="255" width="5" height="3" fill="#2a060b"/>
<rect x="213" y="256" width="3" height="1" fill="#cc4a5c"/>
<rect x="220" y="258" width="1" height="17" fill="#0a0a0a"/>
<rect x="218" y="258" width="5" height="12" fill="#06140f"/>
<rect x="219" y="259" width="3" height="10" fill="#2f8b74"/>
<rect x="227" y="200" width="1" height="58" fill="#0a0a0a"/>
<rect x="225" y="212" width="5" height="36" fill="#06140f"/>
<rect x="226" y="213" width="3" height="34" fill="#2f8b74"/>
<rect x="233" y="234" width="1" height="42" fill="#0a0a0a"/>
<rect x="231" y="235" width="5" height="41" fill="#2a060b"/>
<rect x="232" y="236" width="3" height="39" fill="#cc4a5c"/>
<rect x="239" y="210" width="1" height="30" fill="#0a0a0a"/>
<rect x="237" y="217" width="5" height="22" fill="#06140f"/>
<rect x="238" y="218" width="3" height="20" fill="#2f8b74"/>
<rect x="245" y="187" width="1" height="32" fill="#0a0a0a"/>
<rect x="243" y="192" width="5" height="13" fill="#06140f"/>
<rect x="244" y="193" width="3" height="11" fill="#2f8b74"/>
<rect x="251" y="206" width="1" height="28" fill="#0a0a0a"/>
<rect x="249" y="209" width="5" height="15" fill="#2a060b"/>
<rect x="250" y="210" width="3" height="13" fill="#cc4a5c"/>
<rect x="257" y="211" width="1" height="49" fill="#0a0a0a"/>
<rect x="255" y="211" width="5" height="41" fill="#2a060b"/>
<rect x="256" y="212" width="3" height="39" fill="#cc4a5c"/>
<rect x="263" y="236" width="1" height="44" fill="#0a0a0a"/>
<rect x="261" y="248" width="5" height="28" fill="#2a060b"/>
<rect x="262" y="249" width="3" height="26" fill="#cc4a5c"/>
<rect x="269" y="238" width="1" height="27" fill="#0a0a0a"/>
<rect x="267" y="248" width="5" height="13" fill="#06140f"/>
<rect x="268" y="249" width="3" height="11" fill="#2f8b74"/>
<rect x="275" y="242" width="1" height="26" fill="#0a0a0a"/>
<rect x="273" y="255" width="5" height="1" fill="#0a0a0a"/>
<rect x="281" y="220" width="1" height="44" fill="#0a0a0a"/>
<rect x="279" y="225" width="5" height="37" fill="#06140f"/>
<rect x="280" y="226" width="3" height="35" fill="#2f8b74"/>
<rect x="287" y="212" width="1" height="17" fill="#0a0a0a"/>
<rect x="285" y="212" width="5" height="12" fill="#06140f"/>
<rect x="286" y="213" width="3" height="10" fill="#2f8b74"/>
<rect x="293" y="187" width="1" height="18" fill="#0a0a0a"/>
<rect x="291" y="195" width="5" height="9" fill="#06140f"/>
<rect x="292" y="196" width="3" height="7" fill="#2f8b74"/>
<rect x="299" y="195" width="1" height="18" fill="#0a0a0a"/>
<rect x="297" y="202" width="5" height="1" fill="#0a0a0a"/>
<rect x="305" y="200" width="1" height="37" fill="#0a0a0a"/>
<rect x="303" y="201" width="5" height="23" fill="#2a060b"/>
<rect x="304" y="202" width="3" height="21" fill="#cc4a5c"/>
<rect x="311" y="227" width="1" height="18" fill="#0a0a0a"/>
<rect x="309" y="229" width="5" height="4" fill="#2a060b"/>
<rect x="310" y="230" width="3" height="2" fill="#cc4a5c"/>
<rect x="317" y="213" width="1" height="25" fill="#0a0a0a"/>
<rect x="315" y="218" width="5" height="17" fill="#2a060b"/>
<rect x="316" y="219" width="3" height="15" fill="#cc4a5c"/>
<rect x="323" y="210" width="1" height="24" fill="#0a0a0a"/>
<rect x="321" y="215" width="5" height="15" fill="#06140f"/>
<rect x="322" y="216" width="3" height="13" fill="#2f8b74"/>
<rect x="329" y="208" width="1" height="28" fill="#0a0a0a"/>
<rect x="327" y="208" width="5" height="28" fill="#2a060b"/>
<rect x="328" y="209" width="3" height="26" fill="#cc4a5c"/>
<rect x="335" y="243" width="1" height="21" fill="#0a0a0a"/>
<rect x="333" y="248" width="5" height="8" fill="#06140f"/>
<rect x="334" y="249" width="3" height="6" fill="#2f8b74"/>
<rect x="341" y="253" width="1" height="18" fill="#0a0a0a"/>
<rect x="339" y="258" width="5" height="8" fill="#2a060b"/>
<rect x="340" y="259" width="3" height="6" fill="#cc4a5c"/>
<rect x="348" y="275" width="1" height="26" fill="#0a0a0a"/>
<rect x="346" y="280" width="5" height="7" fill="#2a060b"/>
<rect x="347" y="281" width="3" height="5" fill="#cc4a5c"/>
<rect x="354" y="256" width="1" height="21" fill="#0a0a0a"/>
<rect x="352" y="259" width="5" height="15" fill="#06140f"/>
<rect x="353" y="260" width="3" height="13" fill="#2f8b74"/>
<rect x="360" y="263" width="1" height="26" fill="#0a0a0a"/>
<rect x="358" y="263" width="5" height="7" fill="#2a060b"/>
<rect x="359" y="264" width="3" height="5" fill="#cc4a5c"/>
<rect x="366" y="288" width="1" height="37" fill="#0a0a0a"/>
<rect x="364" y="312" width="5" height="10" fill="#2a060b"/>
<rect x="365" y="313" width="3" height="8" fill="#cc4a5c"/>
<rect x="372" y="327" width="1" height="91" fill="#0a0a0a"/>
<rect x="370" y="334" width="5" height="70" fill="#2a060b"/>
<rect x="371" y="335" width="3" height="68" fill="#cc4a5c"/>
<rect x="378" y="391" width="1" height="175" fill="#0a0a0a"/>
<rect x="376" y="468" width="5" height="78" fill="#06140f"/>
<rect x="377" y="469" width="3" height="76" fill="#2f8b74"/>
<rect x="384" y="416" width="1" height="44" fill="#0a0a0a"/>
<rect x="382" y="430" width="5" height="20" fill="#06140f"/>
<rect x="383" y="431" width="3" height="18" fill="#2f8b74"/>
<rect x="390" y="450" width="1" height="48" fill="#0a0a0a"/>
<rect x="388" y="464" width="5" height="14" fill="#2a060b"/>
<rect x="389" y="465" width="3" height="12" fill="#cc4a5c"/>
<rect x="396" y="353" width="1" height="57" fill="#0a0a0a"/>
<rect x="394" y="360" width="5" height="50" fill="#2a060b"/>
<rect x="395" y="361" width="3" height="48" fill="#cc4a5c"/>
<rect x="402" y="391" width="1" height="52" fill="#0a0a0a"/>
<rect x="400" y="392" width="5" height="32" fill="#2a060b"/>
<rect x="401" y="393" width="3" height="30" fill="#cc4a5c"/>
<rect x="408" y="372" width="1" height="26" fill="#0a0a0a"/>
<rect x="406" y="379" width="5" height="13" fill="#06140f"/>
<rect x="407" y="380" width="3" height="11" fill="#2f8b74"/>
<rect x="414" y="354" width="1" height="18" fill="#0a0a0a"/>
<rect x="412" y="356" width="5" height="15" fill="#06140f"/>
<rect x="413" y="357" width="3" height="13" fill="#2f8b74"/>
<rect x="420" y="352" width="1" height="27" fill="#0a0a0a"/>
<rect x="418" y="352" width="5" height="16" fill="#06140f"/>
<rect x="419" y="353" width="3" height="14" fill="#2f8b74"/>
<rect x="426" y="342" width="1" height="22" fill="#0a0a0a"/>
<rect x="424" y="343" width="5" height="18" fill="#2a060b"/>
<rect x="425" y="344" width="3" height="16" fill="#cc4a5c"/>
<rect x="432" y="353" width="1" height="19" fill="#0a0a0a"/>
<rect x="430" y="353" width="5" height="11" fill="#06140f"/>
<rect x="431" y="354" width="3" height="9" fill="#2f8b74"/>
<rect x="438" y="296" width="1" height="25" fill="#0a0a0a"/>
<rect x="436" y="303" width="5" height="13" fill="#06140f"/>
<rect x="437" y="304" width="3" height="11" fill="#2f8b74"/>
<rect x="444" y="293" width="1" height="27" fill="#0a0a0a"/>
<rect x="442" y="295" width="5" height="13" fill="#06140f"/>
<rect x="443" y="296" width="3" height="11" fill="#2f8b74"/>
<rect x="450" y="275" width="1" height="19" fill="#0a0a0a"/>
<rect x="448" y="281" width="5" height="3" fill="#06140f"/>
<rect x="449" y="282" width="3" height="1" fill="#2f8b74"/>
<rect x="456" y="266" width="1" height="14" fill="#0a0a0a"/>
<rect x="454" y="274" width="5" height="6" fill="#2a060b"/>
<rect x="455" y="275" width="3" height="4" fill="#cc4a5c"/>
<rect x="463" y="265" width="1" height="10" fill="#0a0a0a"/>
<rect x="461" y="267" width="5" height="5" fill="#06140f"/>
<rect x="462" y="268" width="3" height="3" fill="#2f8b74"/>
<rect x="469" y="253" width="1" height="29" fill="#0a0a0a"/>
<rect x="467" y="260" width="5" height="3" fill="#2a060b"/>
<rect x="468" y="261" width="3" height="1" fill="#cc4a5c"/>
<rect x="475" y="217" width="1" height="25" fill="#0a0a0a"/>
<rect x="473" y="217" width="5" height="21" fill="#06140f"/>
<rect x="474" y="218" width="3" height="19" fill="#2f8b74"/>
<rect x="481" y="196" width="1" height="24" fill="#0a0a0a"/>
<rect x="479" y="197" width="5" height="23" fill="#06140f"/>
<rect x="480" y="198" width="3" height="21" fill="#2f8b74"/>
<rect x="487" y="194" width="1" height="40" fill="#0a0a0a"/>
<rect x="485" y="194" width="5" height="11" fill="#2a060b"/>
<rect x="486" y="195" width="3" height="9" fill="#cc4a5c"/>
<rect x="493" y="201" width="1" height="15" fill="#0a0a0a"/>
<rect x="491" y="204" width="5" height="12" fill="#2a060b"/>
<rect x="492" y="205" width="3" height="10" fill="#cc4a5c"/>
<rect x="499" y="193" width="1" height="12" fill="#0a0a0a"/>
<rect x="497" y="197" width="5" height="7" fill="#06140f"/>
<rect x="498" y="198" width="3" height="5" fill="#2f8b74"/>
<rect x="505" y="182" width="1" height="9" fill="#0a0a0a"/>
<rect x="503" y="186" width="5" height="1" fill="#0a0a0a"/>
<rect x="511" y="154" width="1" height="42" fill="#0a0a0a"/>
<rect x="509" y="166" width="5" height="15" fill="#2a060b"/>
<rect x="510" y="167" width="3" height="13" fill="#cc4a5c"/>
<rect x="517" y="174" width="1" height="8" fill="#0a0a0a"/>
<rect x="515" y="175" width="5" height="5" fill="#06140f"/>
<rect x="516" y="176" width="3" height="3" fill="#2f8b74"/>
<rect x="523" y="170" width="1" height="20" fill="#0a0a0a"/>
<rect x="521" y="172" width="5" height="12" fill="#2a060b"/>
<rect x="522" y="173" width="3" height="10" fill="#cc4a5c"/>
<rect x="529" y="171" width="1" height="27" fill="#0a0a0a"/>
<rect x="527" y="171" width="5" height="22" fill="#06140f"/>
<rect x="528" y="172" width="3" height="20" fill="#2f8b74"/>
<rect x="535" y="156" width="1" height="17" fill="#0a0a0a"/>
<rect x="533" y="165" width="5" height="1" fill="#0a0a0a"/>
<rect x="541" y="153" width="1" height="19" fill="#0a0a0a"/>
<rect x="539" y="153" width="5" height="18" fill="#06140f"/>
<rect x="540" y="154" width="3" height="16" fill="#2f8b74"/>
<rect x="547" y="141" width="1" height="14" fill="#0a0a0a"/>
<rect x="545" y="145" width="5" height="3" fill="#06140f"/>
<rect x="546" y="146" width="3" height="1" fill="#2f8b74"/>
<rect x="553" y="136" width="1" height="21" fill="#0a0a0a"/>
<rect x="551" y="138" width="5" height="13" fill="#06140f"/>
<rect x="552" y="139" width="3" height="11" fill="#2f8b74"/>
<rect x="559" y="145" width="1" height="15" fill="#0a0a0a"/>
<rect x="557" y="146" width="5" height="3" fill="#2a060b"/>
<rect x="558" y="147" width="3" height="1" fill="#cc4a5c"/>
<rect x="565" y="136" width="1" height="67" fill="#0a0a0a"/>
<rect x="563" y="146" width="5" height="30" fill="#2a060b"/>
<rect x="564" y="147" width="3" height="28" fill="#cc4a5c"/>
<rect x="571" y="144" width="1" height="8" fill="#0a0a0a"/>
<rect x="569" y="146" width="5" height="1" fill="#0a0a0a"/>
<rect x="577" y="125" width="1" height="21" fill="#0a0a0a"/>
<rect x="575" y="130" width="5" height="15" fill="#06140f"/>
<rect x="576" y="131" width="3" height="13" fill="#2f8b74"/>
<rect x="584" y="123" width="1" height="22" fill="#0a0a0a"/>
<rect x="582" y="129" width="5" height="16" fill="#2a060b"/>
<rect x="583" y="130" width="3" height="14" fill="#cc4a5c"/>
<rect x="590" y="128" width="1" height="25" fill="#0a0a0a"/>
<rect x="588" y="128" width="5" height="25" fill="#2a060b"/>
<rect x="589" y="129" width="3" height="23" fill="#cc4a5c"/>
<rect x="596" y="134" width="1" height="16" fill="#0a0a0a"/>
<rect x="594" y="148" width="5" height="3" fill="#06140f"/>
<rect x="595" y="149" width="3" height="1" fill="#2f8b74"/>
<rect x="602" y="148" width="1" height="19" fill="#0a0a0a"/>
<rect x="600" y="153" width="5" height="6" fill="#06140f"/>
<rect x="601" y="154" width="3" height="4" fill="#2f8b74"/>
<rect x="608" y="140" width="1" height="21" fill="#0a0a0a"/>
<rect x="606" y="141" width="5" height="5" fill="#06140f"/>
<rect x="607" y="142" width="3" height="3" fill="#2f8b74"/>
<rect x="614" y="121" width="1" height="17" fill="#0a0a0a"/>
<rect x="612" y="127" width="5" height="1" fill="#0a0a0a"/>
<rect x="620" y="111" width="1" height="19" fill="#0a0a0a"/>
<rect x="618" y="123" width="5" height="3" fill="#06140f"/>
<rect x="619" y="124" width="3" height="1" fill="#2f8b74"/>
<rect x="626" y="121" width="1" height="9" fill="#0a0a0a"/>
<rect x="624" y="124" width="5" height="1" fill="#0a0a0a"/>
<rect x="632" y="126" width="1" height="14" fill="#0a0a0a"/>
<rect x="630" y="128" width="5" height="7" fill="#2a060b"/>
<rect x="631" y="129" width="3" height="5" fill="#cc4a5c"/>
<rect x="638" y="135" width="1" height="15" fill="#0a0a0a"/>
<rect x="636" y="136" width="5" height="14" fill="#2a060b"/>
<rect x="637" y="137" width="3" height="12" fill="#cc4a5c"/>
<rect x="644" y="136" width="1" height="16" fill="#0a0a0a"/>
<rect x="642" y="148" width="5" height="4" fill="#2a060b"/>
<rect x="643" y="149" width="3" height="2" fill="#cc4a5c"/>
<rect x="650" y="156" width="1" height="21" fill="#0a0a0a"/>
<rect x="648" y="164" width="5" height="1" fill="#0a0a0a"/>
<rect x="656" y="181" width="1" height="15" fill="#0a0a0a"/>
<rect x="654" y="184" width="5" height="7" fill="#06140f"/>
<rect x="655" y="185" width="3" height="5" fill="#2f8b74"/>
<rect x="662" y="170" width="1" height="14" fill="#0a0a0a"/>
<rect x="660" y="171" width="5" height="9" fill="#06140f"/>
<rect x="661" y="172" width="3" height="7" fill="#2f8b74"/>
<rect x="668" y="182" width="1" height="18" fill="#0a0a0a"/>
<rect x="666" y="186" width="5" height="6" fill="#2a060b"/>
<rect x="667" y="187" width="3" height="4" fill="#cc4a5c"/>
<rect x="674" y="185" width="1" height="19" fill="#0a0a0a"/>
<rect x="672" y="191" width="5" height="9" fill="#2a060b"/>
<rect x="673" y="192" width="3" height="7" fill="#cc4a5c"/>
<rect x="680" y="204" width="1" height="15" fill="#0a0a0a"/>
<rect x="678" y="210" width="5" height="9" fill="#2a060b"/>
<rect x="679" y="211" width="3" height="7" fill="#cc4a5c"/>
<rect x="686" y="187" width="1" height="22" fill="#0a0a0a"/>
<rect x="684" y="197" width="5" height="12" fill="#06140f"/>
<rect x="685" y="198" width="3" height="10" fill="#2f8b74"/>
<rect x="692" y="194" width="1" height="24" fill="#0a0a0a"/>
<rect x="690" y="203" width="5" height="3" fill="#06140f"/>
<rect x="691" y="204" width="3" height="1" fill="#2f8b74"/>
<rect x="699" y="162" width="1" height="18" fill="#0a0a0a"/>
<rect x="697" y="171" width="5" height="5" fill="#2a060b"/>
<rect x="698" y="172" width="3" height="3" fill="#cc4a5c"/>
<rect x="705" y="169" width="1" height="18" fill="#0a0a0a"/>
<rect x="703" y="169" width="5" height="17" fill="#2a060b"/>
<rect x="704" y="170" width="3" height="15" fill="#cc4a5c"/>
<rect x="711" y="170" width="1" height="14" fill="#0a0a0a"/>
<rect x="709" y="174" width="5" height="4" fill="#06140f"/>
<rect x="710" y="175" width="3" height="2" fill="#2f8b74"/>
<rect x="717" y="145" width="1" height="19" fill="#0a0a0a"/>
<rect x="715" y="145" width="5" height="14" fill="#06140f"/>
<rect x="716" y="146" width="3" height="12" fill="#2f8b74"/>
<rect x="723" y="138" width="1" height="21" fill="#0a0a0a"/>
<rect x="721" y="139" width="5" height="17" fill="#2a060b"/>
<rect x="722" y="140" width="3" height="15" fill="#cc4a5c"/>
<rect x="729" y="149" width="1" height="23" fill="#0a0a0a"/>
<rect x="727" y="150" width="5" height="22" fill="#2a060b"/>
<rect x="728" y="151" width="3" height="20" fill="#cc4a5c"/>
<rect x="735" y="161" width="1" height="16" fill="#0a0a0a"/>
<rect x="733" y="163" width="5" height="1" fill="#0a0a0a"/>
<rect x="741" y="152" width="1" height="14" fill="#0a0a0a"/>
<rect x="739" y="153" width="5" height="3" fill="#06140f"/>
<rect x="740" y="154" width="3" height="1" fill="#2f8b74"/>
<rect x="747" y="158" width="1" height="12" fill="#0a0a0a"/>
<rect x="745" y="160" width="5" height="4" fill="#2a060b"/>
<rect x="746" y="161" width="3" height="2" fill="#cc4a5c"/>
<rect x="753" y="142" width="1" height="18" fill="#0a0a0a"/>
<rect x="751" y="142" width="5" height="18" fill="#06140f"/>
<rect x="752" y="143" width="3" height="16" fill="#2f8b74"/>
<rect x="759" y="129" width="1" height="14" fill="#0a0a0a"/>
<rect x="757" y="132" width="5" height="6" fill="#06140f"/>
<rect x="758" y="133" width="3" height="4" fill="#2f8b74"/>
<rect x="765" y="101" width="1" height="27" fill="#0a0a0a"/>
<rect x="763" y="106" width="5" height="20" fill="#06140f"/>
<rect x="764" y="107" width="3" height="18" fill="#2f8b74"/>
<rect x="771" y="99" width="1" height="14" fill="#0a0a0a"/>
<rect x="769" y="99" width="5" height="14" fill="#2a060b"/>
<rect x="770" y="100" width="3" height="12" fill="#cc4a5c"/>
<rect x="777" y="120" width="1" height="15" fill="#0a0a0a"/>
<rect x="775" y="122" width="5" height="6" fill="#2a060b"/>
<rect x="776" y="123" width="3" height="4" fill="#cc4a5c"/>
<rect x="783" y="135" width="1" height="15" fill="#0a0a0a"/>
<rect x="781" y="135" width="5" height="11" fill="#06140f"/>
<rect x="782" y="136" width="3" height="9" fill="#2f8b74"/>
<rect x="789" y="127" width="1" height="16" fill="#0a0a0a"/>
<rect x="787" y="131" width="5" height="12" fill="#2a060b"/>
<rect x="788" y="132" width="3" height="10" fill="#cc4a5c"/>
<rect x="795" y="132" width="1" height="18" fill="#0a0a0a"/>
<rect x="793" y="147" width="5" height="1" fill="#0a0a0a"/>
<rect x="801" y="119" width="1" height="15" fill="#0a0a0a"/>
<rect x="799" y="119" width="5" height="11" fill="#06140f"/>
<rect x="800" y="120" width="3" height="9" fill="#2f8b74"/>
<rect x="807" y="110" width="1" height="19" fill="#0a0a0a"/>
<rect x="805" y="111" width="5" height="15" fill="#2a060b"/>
<rect x="806" y="112" width="3" height="13" fill="#cc4a5c"/>
<rect x="813" y="122" width="1" height="11" fill="#0a0a0a"/>
<rect x="811" y="123" width="5" height="1" fill="#0a0a0a"/>
<rect x="820" y="130" width="1" height="24" fill="#0a0a0a"/>
<rect x="818" y="130" width="5" height="14" fill="#2a060b"/>
<rect x="819" y="131" width="3" height="12" fill="#cc4a5c"/>
<rect x="826" y="124" width="1" height="14" fill="#0a0a0a"/>
<rect x="824" y="128" width="5" height="1" fill="#0a0a0a"/>
<rect x="832" y="109" width="1" height="21" fill="#0a0a0a"/>
<rect x="830" y="109" width="5" height="17" fill="#2a060b"/>
<rect x="831" y="110" width="3" height="15" fill="#cc4a5c"/>
<rect x="838" y="128" width="1" height="15" fill="#0a0a0a"/>
<rect x="836" y="131" width="5" height="9" fill="#06140f"/>
<rect x="837" y="132" width="3" height="7" fill="#2f8b74"/>
<rect x="844" y="114" width="1" height="38" fill="#0a0a0a"/>
<rect x="842" y="115" width="5" height="35" fill="#2a060b"/>
<rect x="843" y="116" width="3" height="33" fill="#cc4a5c"/>
<rect x="850" y="124" width="1" height="20" fill="#0a0a0a"/>
<rect x="848" y="131" width="5" height="13" fill="#06140f"/>
<rect x="849" y="132" width="3" height="11" fill="#2f8b74"/>
<rect x="856" y="125" width="1" height="12" fill="#0a0a0a"/>
<rect x="854" y="128" width="5" height="8" fill="#06140f"/>
<rect x="855" y="129" width="3" height="6" fill="#2f8b74"/>
<rect x="862" y="115" width="1" height="30" fill="#0a0a0a"/>
<rect x="860" y="122" width="5" height="22" fill="#2a060b"/>
<rect x="861" y="123" width="3" height="20" fill="#cc4a5c"/>
<rect x="868" y="163" width="1" height="32" fill="#0a0a0a"/>
<rect x="866" y="164" width="5" height="28" fill="#2a060b"/>
<rect x="867" y="165" width="3" height="26" fill="#cc4a5c"/>
<rect x="874" y="164" width="1" height="20" fill="#0a0a0a"/>
<rect x="872" y="166" width="5" height="18" fill="#06140f"/>
<rect x="873" y="167" width="3" height="16" fill="#2f8b74"/>
<rect x="880" y="149" width="1" height="15" fill="#0a0a0a"/>
<rect x="878" y="154" width="5" height="6" fill="#2a060b"/>
<rect x="879" y="155" width="3" height="4" fill="#cc4a5c"/>
<rect x="886" y="148" width="1" height="14" fill="#0a0a0a"/>
<rect x="884" y="150" width="5" height="3" fill="#2a060b"/>
<rect x="885" y="151" width="3" height="1" fill="#cc4a5c"/>
<rect x="892" y="118" width="1" height="36" fill="#0a0a0a"/>
<rect x="890" y="133" width="5" height="21" fill="#06140f"/>
<rect x="891" y="134" width="3" height="19" fill="#2f8b74"/>
<rect x="898" y="127" width="1" height="13" fill="#0a0a0a"/>
<rect x="896" y="134" width="5" height="1" fill="#0a0a0a"/>
<rect x="904" y="131" width="1" height="14" fill="#0a0a0a"/>
<rect x="902" y="132" width="5" height="10" fill="#2a060b"/>
<rect x="903" y="133" width="3" height="8" fill="#cc4a5c"/>
<rect x="910" y="136" width="1" height="16" fill="#0a0a0a"/>
<rect x="908" y="136" width="5" height="10" fill="#2a060b"/>
<rect x="909" y="137" width="3" height="8" fill="#cc4a5c"/>
<rect x="916" y="129" width="1" height="7" fill="#0a0a0a"/>
<rect x="914" y="134" width="5" height="3" fill="#06140f"/>
<rect x="915" y="135" width="3" height="1" fill="#2f8b74"/>
<rect x="922" y="117" width="1" height="15" fill="#0a0a0a"/>
<rect x="920" y="119" width="5" height="13" fill="#06140f"/>
<rect x="921" y="120" width="3" height="11" fill="#2f8b74"/>
<rect x="928" y="107" width="1" height="15" fill="#0a0a0a"/>
<rect x="926" y="107" width="5" height="14" fill="#2a060b"/>
<rect x="927" y="108" width="3" height="12" fill="#cc4a5c"/>
<rect x="935" y="122" width="1" height="7" fill="#0a0a0a"/>
<rect x="933" y="123" width="5" height="1" fill="#0a0a0a"/>
<rect x="941" y="114" width="1" height="12" fill="#0a0a0a"/>
<rect x="939" y="116" width="5" height="5" fill="#06140f"/>
<rect x="940" y="117" width="3" height="3" fill="#2f8b74"/>
<rect x="947" y="120" width="1" height="10" fill="#0a0a0a"/>
<rect x="945" y="127" width="5" height="1" fill="#0a0a0a"/>
<rect x="953" y="124" width="1" height="10" fill="#0a0a0a"/>
<rect x="951" y="125" width="5" height="3" fill="#06140f"/>
<rect x="952" y="126" width="3" height="1" fill="#2f8b74"/>
<rect x="959" y="114" width="1" height="16" fill="#0a0a0a"/>
<rect x="957" y="120" width="5" height="8" fill="#06140f"/>
<rect x="958" y="121" width="3" height="6" fill="#2f8b74"/>
<rect x="965" y="119" width="1" height="11" fill="#0a0a0a"/>
<rect x="963" y="127" width="5" height="3" fill="#06140f"/>
<rect x="964" y="128" width="3" height="1" fill="#2f8b74"/>
<rect x="971" y="128" width="1" height="17" fill="#0a0a0a"/>
<rect x="969" y="136" width="5" height="4" fill="#06140f"/>
<rect x="970" y="137" width="3" height="2" fill="#2f8b74"/>
<rect x="977" y="133" width="1" height="16" fill="#0a0a0a"/>
<rect x="975" y="134" width="5" height="11" fill="#2a060b"/>
<rect x="976" y="135" width="3" height="9" fill="#cc4a5c"/>
<rect x="983" y="132" width="1" height="18" fill="#0a0a0a"/>
<rect x="981" y="134" width="5" height="12" fill="#2a060b"/>
<rect x="982" y="135" width="3" height="10" fill="#cc4a5c"/>
<rect x="989" y="143" width="1" height="14" fill="#0a0a0a"/>
<rect x="987" y="152" width="5" height="4" fill="#2a060b"/>
<rect x="988" y="153" width="3" height="2" fill="#cc4a5c"/>
<rect x="995" y="144" width="1" height="6" fill="#0a0a0a"/>
<rect x="993" y="145" width="5" height="3" fill="#06140f"/>
<rect x="994" y="146" width="3" height="1" fill="#2f8b74"/>
<rect x="1001" y="147" width="1" height="40" fill="#0a0a0a"/>
<rect x="999" y="150" width="5" height="37" fill="#2a060b"/>
<rect x="1000" y="151" width="3" height="35" fill="#cc4a5c"/>
<rect x="1007" y="170" width="1" height="15" fill="#0a0a0a"/>
<rect x="1005" y="178" width="5" height="1" fill="#0a0a0a"/>
<rect x="1013" y="163" width="1" height="13" fill="#0a0a0a"/>
<rect x="1011" y="165" width="5" height="8" fill="#06140f"/>
<rect x="1012" y="166" width="3" height="6" fill="#2f8b74"/>
<rect x="1019" y="159" width="1" height="23" fill="#0a0a0a"/>
<rect x="1017" y="159" width="5" height="20" fill="#2a060b"/>
<rect x="1018" y="160" width="3" height="18" fill="#cc4a5c"/>
<rect x="1025" y="161" width="1" height="13" fill="#0a0a0a"/>
<rect x="1023" y="162" width="5" height="4" fill="#06140f"/>
<rect x="1024" y="163" width="3" height="2" fill="#2f8b74"/>
<rect x="1031" y="158" width="1" height="17" fill="#0a0a0a"/>
<rect x="1029" y="163" width="5" height="7" fill="#2a060b"/>
<rect x="1030" y="164" width="3" height="5" fill="#cc4a5c"/>
<rect x="1037" y="157" width="1" height="21" fill="#0a0a0a"/>
<rect x="1035" y="160" width="5" height="16" fill="#2a060b"/>
<rect x="1036" y="161" width="3" height="14" fill="#cc4a5c"/>
<rect x="1043" y="164" width="1" height="16" fill="#0a0a0a"/>
<rect x="1041" y="170" width="5" height="4" fill="#06140f"/>
<rect x="1042" y="171" width="3" height="2" fill="#2f8b74"/>
<rect x="1049" y="163" width="1" height="15" fill="#0a0a0a"/>
<rect x="1047" y="165" width="5" height="7" fill="#2a060b"/>
<rect x="1048" y="166" width="3" height="5" fill="#cc4a5c"/>
</g>
<path d="M80,49h11v18h-11a9,9 0 0 1 0,-18z" fill="#d6efec"/><path d="M91,49h10.5a9,9 0 0 1 0,18h-10.5z" fill="#ffe2b5"/>
<circle cx="82" cy="58" r="4" fill="#0f9981"/>
<text x="96.7" y="62.5" font-size="12.5" font-weight="bold" fill="#e9972a" text-anchor="start" textLength="7.4" lengthAdjust="spacingAndGlyphs">D</text>
<text x="127.2" y="62.7" font-size="12" font-weight="normal" fill="#1a1a1a" text-anchor="start" textLength="380.5" lengthAdjust="spacingAndGlyphs">O23,767.34 H23,793.06 L23,604.36 C23,684.60 −19.05 (−0.08%)</text>
<rect x="61" y="97" width="99" height="20" fill="#fff" fill-opacity="0.9"/>
<text x="65.1" y="86.6" font-size="12" font-weight="normal" fill="#1a1a1a" text-anchor="start" textLength="17.2" lengthAdjust="spacingAndGlyphs">Vol</text>
<text x="90.8" y="86.6" font-size="12" font-weight="normal" fill="#c9606d" text-anchor="start" textLength="43" lengthAdjust="spacingAndGlyphs">24.87M</text>
<text x="65.1" y="111.3" font-size="12" font-weight="normal" fill="#1a1a1a" text-anchor="start" textLength="23.3" lengthAdjust="spacingAndGlyphs">EMA</text>
<text x="97.5" y="111.3" font-size="12" font-weight="normal" fill="#c9606d" text-anchor="start" textLength="56.2" lengthAdjust="spacingAndGlyphs">23,909.72</text>
<text x="65.1" y="134.8" font-size="12" font-weight="normal" fill="#1a1a1a" text-anchor="start" textLength="23.3" lengthAdjust="spacingAndGlyphs">EMA</text>
<text x="97.5" y="134.8" font-size="12" font-weight="normal" fill="#4a4ab0" text-anchor="start" textLength="56.2" lengthAdjust="spacingAndGlyphs">22,616.22</text>
<rect x="64.5" y="145.5" width="28" height="20" rx="3" fill="#fff" stroke="#dcdde0" stroke-width="1"/>
<path d="M74.7,157.5l3.8,-3.8l3.8,3.8" fill="none" stroke="#1c1c1c" stroke-width="1.5" stroke-linecap="round" stroke-linejoin="round"/>
<g fill="#111" stroke="#fff" stroke-width="1.6" paint-order="stroke"><path d="M68.2,584h11.6v15h-5.8v-9.2h-5.8z"/><circle cx="84.2" cy="586.9" r="2.9"/><path d="M91.5,584h6.4l-6.2,15h-6.4z"/></g>
<text x="105.2" y="598.8" font-size="21.5" font-weight="bold" fill="#111" text-anchor="start" textLength="120.8" lengthAdjust="spacingAndGlyphs" stroke="#fff" stroke-width="1.6" paint-order="stroke">TradingView</text>
<circle cx="1049.3" cy="600.3" r="9.4" fill="#fff" stroke="#7a2ea0" stroke-width="1.4"/>
<path d="M1051.2,594.6l-5.2,6.6h3.6l-1.4,4.9l5.3,-6.7h-3.7z" fill="#7a2ea0"/>
<text x="1225.5" y="60.3" font-size="12" font-weight="normal" fill="#1a1a1a" text-anchor="end">25,200.00</text>
<text x="1225.5" y="90.7" font-size="12" font-weight="normal" fill="#1a1a1a" text-anchor="end">24,800.00</text>
<text x="1225.5" y="121.0" font-size="12" font-weight="normal" fill="#1a1a1a" text-anchor="end">24,400.00</text>
<text x="1225.5" y="151.4" font-size="12" font-weight="normal" fill="#1a1a1a" text-anchor="end">24,000.00</text>
<text x="1225.5" y="181.7" font-size="12" font-weight="normal" fill="#1a1a1a" text-anchor="end">23,600.00</text>
<text x="1225.5" y="212.1" font-size="12" font-weight="normal" fill="#1a1a1a" text-anchor="end">23,200.00</text>
<text x="1225.5" y="242.4" font-size="12" font-weight="normal" fill="#1a1a1a" text-anchor="end">22,800.00</text>
<text x="1225.5" y="272.8" font-size="12" font-weight="normal" fill="#1a1a1a" text-anchor="end">22,400.00</text>
<text x="1225.5" y="303.1" font-size="12" font-weight="normal" fill="#1a1a1a" text-anchor="end">22,000.00</text>
<text x="1225.5" y="333.5" font-size="12" font-weight="normal" fill="#1a1a1a" text-anchor="end">21,600.00</text>
<text x="1225.5" y="363.8" font-size="12" font-weight="normal" fill="#1a1a1a" text-anchor="end">21,200.00</text>
<text x="1225.5" y="394.2" font-size="12" font-weight="normal" fill="#1a1a1a" text-anchor="end">20,800.00</text>
<text x="1225.5" y="424.5" font-size="12" font-weight="normal" fill="#1a1a1a" text-anchor="end">20,400.00</text>
<text x="1225.5" y="454.9" font-size="12" font-weight="normal" fill="#1a1a1a" text-anchor="end">20,000.00</text>
<text x="1225.5" y="485.2" font-size="12" font-weight="normal" fill="#1a1a1a" text-anchor="end">19,600.00</text>
<text x="1225.5" y="515.6" font-size="12" font-weight="normal" fill="#1a1a1a" text-anchor="end">19,200.00</text>
<text x="1225.5" y="545.9" font-size="12" font-weight="normal" fill="#1a1a1a" text-anchor="end">18,800.00</text>
<text x="1225.5" y="576.3" font-size="12" font-weight="normal" fill="#1a1a1a" text-anchor="end">18,400.00</text>
<text x="1225.5" y="606.7" font-size="12" font-weight="normal" fill="#1a1a1a" text-anchor="end">18,000.00</text>
<rect x="1165" y="94" width="66" height="17" rx="2" fill="#2a62e6"/><text x="1225.5" y="106.6" font-size="12" font-weight="normal" fill="#fff" text-anchor="end" stroke="#fff" stroke-width="0.35">24,600.00</text>
<rect x="1165" y="197" width="66" height="17" rx="2" fill="#2a62e6"/><text x="1225.5" y="209.6" font-size="12" font-weight="normal" fill="#fff" text-anchor="end" stroke="#fff" stroke-width="0.35">23,250.00</text>
<rect x="1165" y="245" width="66" height="17" rx="2" fill="#2424dd"/><text x="1225.5" y="257.6" font-size="12" font-weight="normal" fill="#fff" text-anchor="end" stroke="#fff" stroke-width="0.35">22,616.22</text>
<rect x="1165" y="147" width="66" height="47" rx="2" fill="#f0364a"/><text x="1225.5" y="159.6" font-size="12" font-weight="normal" fill="#fff" text-anchor="end" stroke="#fff" stroke-width="0.35">23,909.72</text><text x="1225.5" y="176.1" font-size="12" font-weight="normal" fill="#fff" text-anchor="end" stroke="#fff" stroke-width="0.35">23,684.60</text>
<text x="1173.3" y="189.8" font-size="12" font-weight="normal" fill="#fbc9ce" text-anchor="start">01:55</text>
<rect x="1165" y="591" width="55" height="16" rx="2" fill="#f0525f"/>
<text x="1169.5" y="603.8" font-size="12" font-weight="normal" fill="#fff" text-anchor="start" stroke="#fff" stroke-width="0.35">24.87</text>
<text x="1201.5" y="603.8" font-size="11" font-weight="normal" fill="#fff" text-anchor="start" stroke="#fff" stroke-width="0.3">M</text>
<text x="105.3" y="631.6" font-size="12" font-weight="bold" fill="#1a1a1a" text-anchor="middle" stroke="#fff" stroke-width="0.25">Feb</text>
<text x="226.5" y="631.6" font-size="12" font-weight="bold" fill="#1a1a1a" text-anchor="middle" stroke="#fff" stroke-width="0.25">Mar</text>
<text x="353.5" y="631.6" font-size="12" font-weight="bold" fill="#1a1a1a" text-anchor="middle" stroke="#fff" stroke-width="0.25">Apr</text>
<text x="474.5" y="631.6" font-size="12" font-weight="bold" fill="#1a1a1a" text-anchor="middle" stroke="#fff" stroke-width="0.25">May</text>
<text x="601.5" y="631.6" font-size="12" font-weight="bold" fill="#1a1a1a" text-anchor="middle" stroke="#fff" stroke-width="0.25">Jun</text>
<text x="728.5" y="631.6" font-size="12" font-weight="bold" fill="#1a1a1a" text-anchor="middle" stroke="#fff" stroke-width="0.25">Jul</text>
<text x="868" y="631.6" font-size="12" font-weight="bold" fill="#1a1a1a" text-anchor="middle" stroke="#fff" stroke-width="0.25">Aug</text>
<text x="994.9" y="631.6" font-size="12" font-weight="bold" fill="#1a1a1a" text-anchor="middle" stroke="#fff" stroke-width="0.25">Sep</text>
<text x="1128" y="631.6" font-size="12" font-weight="bold" fill="#1a1a1a" text-anchor="middle" stroke="#fff" stroke-width="0.25">Oct</text>
<line x1="56" x2="1236" y1="641.5" y2="641.5" stroke="#e6e6e6" stroke-width="1" shape-rendering="crispEdges"/>
<g fill="none" stroke="#1c1c1c" stroke-width="1.3"><path d="M1196.6,621.2h7.4l3.7,6.3l-3.7,6.3h-7.4l-3.7,-6.3z" stroke-linejoin="round"/><circle cx="1200.3" cy="627.5" r="2.3"/></g>
<text x="70.3" y="666" font-size="13.5" font-weight="normal" fill="#1a1a1a" text-anchor="start" textLength="15.1" lengthAdjust="spacingAndGlyphs">1D</text>
<text x="98.3" y="666" font-size="13.5" font-weight="normal" fill="#1a1a1a" text-anchor="start" textLength="15.1" lengthAdjust="spacingAndGlyphs">5D</text>
<text x="126.9" y="666" font-size="13.5" font-weight="normal" fill="#1a1a1a" text-anchor="start" textLength="16.2" lengthAdjust="spacingAndGlyphs">1M</text>
<text x="155.7" y="666" font-size="13.5" font-weight="normal" fill="#1a1a1a" text-anchor="start" textLength="16.6" lengthAdjust="spacingAndGlyphs">3M</text>
<text x="184.9" y="666" font-size="13.5" font-weight="normal" fill="#1a1a1a" text-anchor="start" textLength="16.8" lengthAdjust="spacingAndGlyphs">6M</text>
<text x="213.7" y="666" font-size="13.5" font-weight="normal" fill="#1a1a1a" text-anchor="start" textLength="24.4" lengthAdjust="spacingAndGlyphs">YTD</text>
<text x="250.7" y="666" font-size="13.5" font-weight="normal" fill="#1a1a1a" text-anchor="start" textLength="14.9" lengthAdjust="spacingAndGlyphs">1Y</text>
<text x="278.2" y="666" font-size="13.5" font-weight="normal" fill="#1a1a1a" text-anchor="start" textLength="14.5" lengthAdjust="spacingAndGlyphs">5Y</text>
<text x="304.8" y="666" font-size="13.5" font-weight="normal" fill="#1a1a1a" text-anchor="start" textLength="16.2" lengthAdjust="spacingAndGlyphs">All</text>
<line x1="332.5" x2="332.5" y1="651" y2="671" stroke="#e6e6e6" stroke-width="1" shape-rendering="crispEdges"/>
<g fill="none" stroke="#1c1c1c" stroke-width="1.3" stroke-linecap="round" stroke-linejoin="round"><path d="M347.2,660v-3.8a2.2,2.2 0 0 1 2.2,-2.2h12.8a2.2,2.2 0 0 1 2.2,2.2v10.2a2.2,2.2 0 0 1 -2.2,2.2h-6"/><path d="M351.3,652.2v3.4M360.3,652.2v3.4M347.2,658.3h17.2"/><path d="M346.4,664.8h7.6M351.3,662l2.9,2.8l-2.9,2.8"/></g>
<text x="1142.5" y="666" font-size="13.5" font-weight="normal" fill="#1a1a1a" text-anchor="start" textLength="82.7" lengthAdjust="spacingAndGlyphs">15:43:03 UTC</text>
</svg></div>
<div class="panel" id="bottom" style="left:56px;top:684px;width:1180px;height:38px;border-radius:4px 4px 0 0"><svg width="1180" height="38" viewBox="56 684 1180 38">
<text x="72.2" y="708" font-size="14" font-weight="normal" fill="#1a1a1a" text-anchor="start" textLength="67.3" lengthAdjust="spacingAndGlyphs">Pine Editor</text>
<text x="172.5" y="708" font-size="14" font-weight="normal" fill="#1a1a1a" text-anchor="start" textLength="93.9" lengthAdjust="spacingAndGlyphs">Strategy Tester</text>
<text x="299.6" y="708" font-size="14" font-weight="normal" fill="#1a1a1a" text-anchor="start" textLength="90.4" lengthAdjust="spacingAndGlyphs">Replay Trading</text>
<text x="422.7" y="708" font-size="14" font-weight="normal" fill="#1a1a1a" text-anchor="start" textLength="82.8" lengthAdjust="spacingAndGlyphs">Trading Panel</text>
<path d="M1173,705.2l8.6,-6.8l8.6,6.8" fill="none" stroke="#1c1c1c" stroke-width="1.2" stroke-linecap="round" stroke-linejoin="round"/>
<path d="M1209.2,700.6v-2a2.6,2.6 0 0 1 2.6,-2.6h10.4a2.6,2.6 0 0 1 2.6,2.6v2M1224.8,705.8v2a2.6,2.6 0 0 1 -2.6,2.6h-10.4a2.6,2.6 0 0 1 -2.6,-2.6v-2" fill="none" stroke="#1c1c1c" stroke-width="1.2" stroke-linecap="round" stroke-linejoin="round"/>
</svg></div>
<div class="panel" id="righttb" style="left:1240px;top:42px;width:45px;height:680px;border-radius:4px 0 0 0"><svg width="45" height="680" viewBox="1240 42 45 680">
<path d="M1253.9,55.6h18.4v21.2l-9.2,-3.8l-9.2,3.8z" fill="none" stroke="#1c1c1c" stroke-width="1.2" stroke-linecap="round" stroke-linejoin="round" stroke-linejoin="miter"/>
<path d="M1257.2,60.5h11.8M1257.2,64.4h11.8M1257.2,68.3h11.8" fill="none" stroke="#1c1c1c" stroke-width="1.2" stroke-linecap="round" stroke-linejoin="round" stroke-linecap="butt"/>
<circle cx="1262.9" cy="112" r="10.4" fill="none" stroke="#1c1c1c" stroke-width="1.2"/>
<path d="M1250.4,104.4l6,-4.9M1269.9,99.5l5.8,4.9M1263.5,106.3v7.2h-5.4" fill="none" stroke="#1c1c1c" stroke-width="1.2" stroke-linecap="round" stroke-linejoin="round"/>
<path d="M1262.6,148.3l11,6.4l-11,6.4l-11,-6.4zM1251.7,160.7l10.9,6.2l10.9,-6.2" fill="none" stroke="#1c1c1c" stroke-width="1.2" stroke-linecap="round" stroke-linejoin="round"/>
<path d="M1251.6,211.9v-15.4a2.8,2.8 0 0 1 2.8,-2.8h13.5a2.8,2.8 0 0 1 2.8,2.8v9a2.8,2.8 0 0 1 -2.8,2.8h-12.6z" fill="none" stroke="#1c1c1c" stroke-width="1.2" stroke-linecap="round" stroke-linejoin="round"/>
<path d="M1270.9,201.2h0.9a2.8,2.8 0 0 1 2.8,2.8v12l-3.8,-3.8h-7.2a2.8,2.8 0 0 1 -2.8,-2.8" fill="none" stroke="#1c1c1c" stroke-width="1.2" stroke-linecap="round" stroke-linejoin="round"/>
<circle cx="1262.9" cy="502.8" r="13.4" fill="none" stroke="#1c1c1c" stroke-width="1.2"/><circle cx="1262.9" cy="502.8" r="7.4" fill="none" stroke="#1c1c1c" stroke-width="1.2"/><circle cx="1262.9" cy="502.8" r="1.9" fill="#1c1c1c"/>
<path d="M1262.9,502.8l9.6,-9.5" fill="none" stroke="#1c1c1c" stroke-width="1.2" stroke-linecap="round" stroke-linejoin="round"/>
<rect x="1251.8" y="539.8" width="22.5" height="20.6" rx="3" fill="none" stroke="#1c1c1c" stroke-width="1.2"/>
<path d="M1251.8,546.5h22.5" fill="none" stroke="#1c1c1c" stroke-width="1.2" stroke-linecap="round" stroke-linejoin="round"/>
<rect x="1255.6" y="537.6" width="2.6" height="4.6" rx="1" fill="#fff" stroke="#1c1c1c" stroke-width="1.1"/><rect x="1267.8" y="537.6" width="2.6" height="4.6" rx="1" fill="#fff" stroke="#1c1c1c" stroke-width="1.1"/>
<circle cx="1262.8" cy="595" r="16.8" fill="#2a2a2a"/>
<rect x="1254.1" y="586.3" width="4" height="4" fill="#fff"/>
<rect x="1260.9" y="586.3" width="4" height="4" fill="#fff"/>
<rect x="1267.7" y="586.3" width="4" height="4" fill="#fff"/>
<rect x="1254.1" y="593.2" width="4" height="4" fill="#fff"/>
<rect x="1260.9" y="593.2" width="4" height="4" fill="#fff"/>
<rect x="1267.7" y="593.2" width="4" height="4" fill="#fff"/>
<rect x="1254.1" y="600.1" width="4" height="4" fill="#fff"/>
<rect x="1260.9" y="600.1" width="4" height="4" fill="#fff"/>
<rect x="1267.7" y="600.1" width="4" height="4" fill="#fff"/>
<line x1="1246" x2="1278.5" y1="623.5" y2="623.5" stroke="#e6e7ea" stroke-width="1" shape-rendering="crispEdges"/>
<circle cx="1253.8" cy="659.9" r="1.6" fill="none" stroke="#1c1c1c" stroke-width="1.1"/>
<path d="M1252.3,652.6a9.2,9.2 0 0 1 9.2,9.2M1252.3,646.5a15.3,15.3 0 0 1 15.3,15.3M1252.3,640.3a21.5,21.5 0 0 1 21.5,21.5" fill="none" stroke="#1c1c1c" stroke-width="1.2" stroke-linecap="round" stroke-linejoin="round"/>
<path d="M1270.6,687.2a13.4,13.4 0 0 0 -20,16.6M1254.6,708.6a13.4,13.4 0 0 0 20.8,-15.6" fill="none" stroke="#1c1c1c" stroke-width="1.2" stroke-linecap="round" stroke-linejoin="round"/>
<path d="M1259.4,694.9a3.8,3.8 0 1 1 5.6,3.3c-1.2,0.7 -1.8,1.3 -1.8,2.6v0.8" fill="none" stroke="#1c1c1c" stroke-width="1.2" stroke-linecap="round" stroke-linejoin="round"/><circle cx="1263.1" cy="704.4" r="1.4" fill="none" stroke="#1c1c1c" stroke-width="1.1"/>
<path d="M1274,683.6q0.6,3.5 4.1,4.1q-3.5,0.6 -4.1,4.1q-0.6,-3.5 -4.1,-4.1q3.5,-0.6 4.1,-4.1z" fill="none" stroke="#1c1c1c" stroke-width="1" stroke-linecap="round" stroke-linejoin="round" fill="#fff"/>
<path d="M1251.4,702.5q0.4,2.5 2.9,2.9q-2.5,0.4 -2.9,2.9q-0.4,-2.5 -2.9,-2.9q2.5,-0.4 2.9,-2.9z" fill="none" stroke="#1c1c1c" stroke-width="1" stroke-linecap="round" stroke-linejoin="round" fill="#fff"/>
<path d="M1285,718.5a3.5,3.5 0 0 0 -3.5,3.5h3.5z" fill="#b23aa8"/>
</svg></div>
</body></html>
